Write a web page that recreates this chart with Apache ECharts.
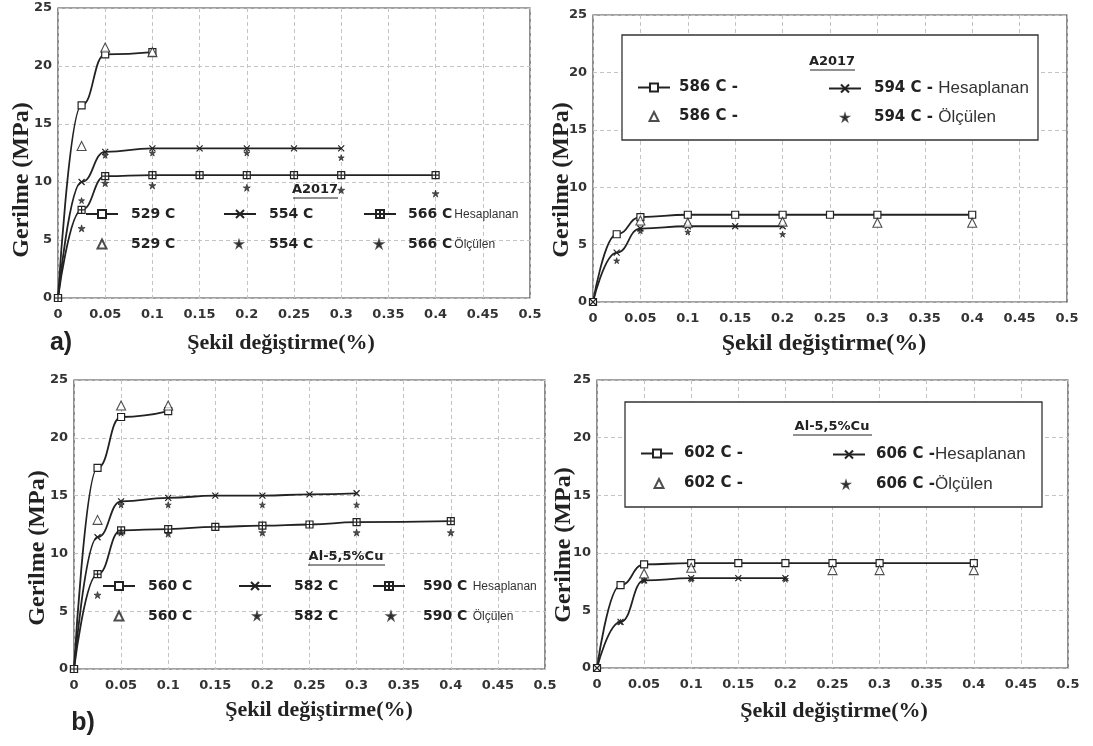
<!DOCTYPE html>
<html>
<head>
<meta charset="utf-8">
<script src="https://cdn.jsdelivr.net/npm/echarts@6/dist/echarts.min.js"></script>
<style>html,body{margin:0;padding:0;background:#fff;}#c{width:1093px;height:746px;}</style>
</head>
<body>
<div id="c"></div>
<script>
// ---------- tick labels ----------
const xTickLabels = ['0','0.05','0.1','0.15','0.2','0.25','0.3','0.35','0.4','0.45','0.5'];
const yTickLabels = ['0','5','10','15','20','25'];

// ---------- panel a (left): A2017 529 / 554 / 566 C ----------
const a1_529_calc_x = [0, 0.025, 0.05, 0.1];
const a1_529_calc_y = [0, 16.6, 21.0, 21.2];
const a1_529_meas_x = [0.025, 0.05, 0.1];
const a1_529_meas_y = [13.1, 21.6, 21.2];
const a1_554_calc_x = [0, 0.025, 0.05, 0.1, 0.15, 0.2, 0.25, 0.3];
const a1_554_calc_y = [0, 10.0, 12.6, 12.9, 12.9, 12.9, 12.9, 12.9];
const a1_554_meas_x = [0.025, 0.05, 0.1, 0.2, 0.3];
const a1_554_meas_y = [8.4, 12.3, 12.5, 12.5, 12.1];
const a1_566_calc_x = [0, 0.025, 0.05, 0.1, 0.15, 0.2, 0.25, 0.3, 0.4];
const a1_566_calc_y = [0, 7.6, 10.5, 10.6, 10.6, 10.6, 10.6, 10.6, 10.6];
const a1_566_meas_x = [0.025, 0.05, 0.1, 0.2, 0.3, 0.4];
const a1_566_meas_y = [6.0, 9.9, 9.7, 9.5, 9.3, 9.0];

// ---------- panel a (right): A2017 586 / 594 C ----------
const a2_586_calc_x = [0, 0.025, 0.05, 0.1, 0.15, 0.2, 0.25, 0.3, 0.4];
const a2_586_calc_y = [0, 5.9, 7.4, 7.6, 7.6, 7.6, 7.6, 7.6, 7.6];
const a2_586_meas_x = [0.05, 0.1, 0.2, 0.3, 0.4];
const a2_586_meas_y = [7.1, 6.9, 7.0, 6.9, 6.9];
const a2_594_calc_x = [0, 0.025, 0.05, 0.1, 0.15, 0.2];
const a2_594_calc_y = [0, 4.3, 6.4, 6.6, 6.6, 6.6];
const a2_594_meas_x = [0.025, 0.05, 0.1, 0.2];
const a2_594_meas_y = [3.6, 6.2, 6.1, 5.9];

// ---------- panel b (left): Al-5,5%Cu 560 / 582 / 590 C ----------
const b1_560_calc_x = [0, 0.025, 0.05, 0.1];
const b1_560_calc_y = [0, 17.4, 21.8, 22.3];
const b1_560_meas_x = [0.025, 0.05, 0.1];
const b1_560_meas_y = [12.9, 22.8, 22.8];
const b1_582_calc_x = [0, 0.025, 0.05, 0.1, 0.15, 0.2, 0.25, 0.3];
const b1_582_calc_y = [0, 11.4, 14.5, 14.8, 15.0, 15.0, 15.1, 15.2];
const b1_582_meas_x = [0.05, 0.1, 0.2, 0.3];
const b1_582_meas_y = [14.2, 14.2, 14.2, 14.2];
const b1_590_calc_x = [0, 0.025, 0.05, 0.1, 0.15, 0.2, 0.25, 0.3, 0.4];
const b1_590_calc_y = [0, 8.2, 12.0, 12.1, 12.3, 12.4, 12.5, 12.7, 12.8];
const b1_590_meas_x = [0.025, 0.05, 0.1, 0.2, 0.3, 0.4];
const b1_590_meas_y = [6.4, 11.8, 11.7, 11.8, 11.8, 11.8];

// ---------- panel b (right): Al-5,5%Cu 602 / 606 C ----------
const b2_602_calc_x = [0, 0.025, 0.05, 0.1, 0.15, 0.2, 0.25, 0.3, 0.4];
const b2_602_calc_y = [0, 7.2, 9.0, 9.1, 9.1, 9.1, 9.1, 9.1, 9.1];
const b2_602_meas_x = [0.05, 0.1, 0.25, 0.3, 0.4];
const b2_602_meas_y = [8.2, 8.7, 8.5, 8.5, 8.5];
const b2_606_calc_x = [0, 0.025, 0.05, 0.1, 0.15, 0.2];
const b2_606_calc_y = [0, 4.0, 7.6, 7.8, 7.8, 7.8];
const b2_606_meas_x = [0.025, 0.05, 0.1, 0.2];
const b2_606_meas_y = [4.0, 7.6, 7.7, 7.7];

// ---------- text ----------
const yName = 'Gerilme (MPa)';
const xName = 'Şekil değiştirme(%)';

// ---------- build ----------
const INK = '#222';
const NUMFONT = 'DejaVu Sans';
const SYM_X = 'path://M0,0L10,10M10,0L0,10';
const SYM_HASH = 'path://M0,0H10V10H0ZM5,0V10M0,5H10';
const SYM_STAR = 'path://M5,0L6.2,3.8L10,3.8L6.9,6.1L8.1,10L5,7.6L1.9,10L3.1,6.1L0,3.8L3.8,3.8Z';

function pairs(xs, ys) { return xs.map((x, i) => [x, ys[i]]); }
function calc(name, g, xs, ys, symbol, size) {
  return {
    name, type: 'line', xAxisIndex: g, yAxisIndex: g, data: pairs(xs, ys),
    smooth: 0.5, smoothMonotone: 'x', symbol, symbolSize: size, showSymbol: true,
    lineStyle: { color: INK, width: 1.8 },
    itemStyle: { color: '#fff', borderColor: INK, borderWidth: 1.2 },
    z: 5, animation: false
  };
}
function meas(name, g, xs, ys, symbol, size, filled) {
  return {
    name, type: 'scatter', xAxisIndex: g, yAxisIndex: g, data: pairs(xs, ys),
    symbol, symbolSize: size,
    itemStyle: { color: filled ? INK : '#fff', borderColor: INK, borderWidth: filled ? 0.8 : 1.1 },
    z: 6, animation: false
  };
}

const grids = [
  { left: 58, top: 8, width: 472, height: 290 },
  { left: 593, top: 15, width: 474, height: 287 },
  { left: 74, top: 380, width: 471, height: 289 },
  { left: 597, top: 380, width: 471, height: 288 }
].map(g => Object.assign(g, { show: true, borderColor: '#444', borderWidth: 1.2, backgroundColor: 'transparent' }));

const labelStyle = { fontFamily: NUMFONT, fontWeight: 'bold', fontSize: 13, color: '#333' };
const splitStyle = { show: true, lineStyle: { color: '#c4c4c4', type: [4, 3], width: 1 } };
const xAxes = [0, 1, 2, 3].map(g => ({
  gridIndex: g, type: 'value', min: 0, max: 0.5, interval: 0.05,
  axisLine: { show: false }, axisTick: { show: false }, splitLine: splitStyle,
  axisLabel: Object.assign({ margin: 10, formatter: v => xTickLabels[Math.round(v / 0.05)] }, labelStyle)
}));
const yAxes = [0, 1, 2, 3].map(g => ({
  gridIndex: g, type: 'value', min: 0, max: 25, interval: 5,
  axisLine: { show: false }, axisTick: { show: false }, splitLine: splitStyle,
  axisLabel: Object.assign({ margin: 6, formatter: v => yTickLabels[Math.round(v / 5)] }, labelStyle)
}));

const series = [
  calc('529 C Hesaplanan', 0, a1_529_calc_x, a1_529_calc_y, 'rect', 7),
  meas('529 C Ölçülen', 0, a1_529_meas_x, a1_529_meas_y, 'triangle', 9, false),
  calc('554 C Hesaplanan', 0, a1_554_calc_x, a1_554_calc_y, SYM_X, 6),
  meas('554 C Ölçülen', 0, a1_554_meas_x, a1_554_meas_y, SYM_STAR, 6, true),
  calc('566 C Hesaplanan', 0, a1_566_calc_x, a1_566_calc_y, SYM_HASH, 7),
  meas('566 C Ölçülen', 0, a1_566_meas_x, a1_566_meas_y, SYM_STAR, 7, true),

  calc('586 C Hesaplanan', 1, a2_586_calc_x, a2_586_calc_y, 'rect', 7),
  meas('586 C Ölçülen', 1, a2_586_meas_x, a2_586_meas_y, 'triangle', 9, false),
  calc('594 C Hesaplanan', 1, a2_594_calc_x, a2_594_calc_y, SYM_X, 6),
  meas('594 C Ölçülen', 1, a2_594_meas_x, a2_594_meas_y, SYM_STAR, 6, true),

  calc('560 C Hesaplanan', 2, b1_560_calc_x, b1_560_calc_y, 'rect', 7),
  meas('560 C Ölçülen', 2, b1_560_meas_x, b1_560_meas_y, 'triangle', 9, false),
  calc('582 C Hesaplanan', 2, b1_582_calc_x, b1_582_calc_y, SYM_X, 6),
  meas('582 C Ölçülen', 2, b1_582_meas_x, b1_582_meas_y, SYM_STAR, 6, true),
  calc('590 C Hesaplanan', 2, b1_590_calc_x, b1_590_calc_y, SYM_HASH, 7),
  meas('590 C Ölçülen', 2, b1_590_meas_x, b1_590_meas_y, SYM_STAR, 7, true),

  calc('602 C Hesaplanan', 3, b2_602_calc_x, b2_602_calc_y, 'rect', 7),
  meas('602 C Ölçülen', 3, b2_602_meas_x, b2_602_meas_y, 'triangle', 9, false),
  calc('606 C Hesaplanan', 3, b2_606_calc_x, b2_606_calc_y, SYM_X, 6),
  meas('606 C Ölçülen', 3, b2_606_meas_x, b2_606_meas_y, SYM_STAR, 6, true)
];

const rich = {
  b: { fontFamily: NUMFONT, fontWeight: 'bold', fontSize: 14, color: INK },
  B: { fontFamily: NUMFONT, fontWeight: 'bold', fontSize: 15, color: INK },
  s: { fontFamily: 'Liberation Sans', fontSize: 12, color: '#333', padding: [2, 0, 0, 2] },
  r: { fontFamily: 'Liberation Sans', fontSize: 17, color: '#333' }
};
// line-series legend item: 32px line icon
function leg(name, text, left, rowY, pad) {
  return {
    data: [name], left, top: rowY - 9, padding: 0, itemWidth: 32, itemHeight: 10,
    selectedMode: false, z: 20, formatter: text,
    textStyle: { rich, padding: [0, 0, 0, pad] }
  };
}
// scatter legend item: small symbol icon centred at cx, text starting at tx
function legS(name, text, cx, rowY, tx, size) {
  return {
    data: [name], left: cx - size / 2, top: rowY - 9, padding: 0, itemWidth: size, itemHeight: size,
    selectedMode: false, z: 20, formatter: text,
    textStyle: { rich, padding: [0, 0, 0, tx - (cx - size / 2) - size - 5] }
  };
}
const legends = [
  leg('529 C Hesaplanan', '{b|529 C}', 85, 216, 8),
  leg('554 C Hesaplanan', '{b|554 C}', 223, 216, 8),
  leg('566 C Hesaplanan', '{b|566 C}{s|Hesaplanan}', 363, 216, 7),
  legS('529 C Ölçülen', '{b|529 C}', 101, 246, 130, 9),
  legS('554 C Ölçülen', '{b|554 C}', 238, 246, 268, 6),
  legS('566 C Ölçülen', '{b|566 C}{s|Ölçülen}', 378, 246, 407, 7),

  leg('586 C Hesaplanan', '{B|586 C -}', 637, 89, 4),
  leg('594 C Hesaplanan', '{B|594 C - }{r|Hesaplanan}', 828, 89, 8),
  legS('586 C Ölçülen', '{B|586 C -}', 653, 118, 678, 9),
  legS('594 C Ölçülen', '{B|594 C - }{r|Ölçülen}', 844, 118, 873, 6),

  leg('560 C Hesaplanan', '{b|560 C}', 102, 588, 8),
  leg('582 C Hesaplanan', '{b|582 C}', 238, 588, 18),
  leg('590 C Hesaplanan', '{b|590 C}{s| Hesaplanan}', 372, 588, 13),
  legS('560 C Ölçülen', '{b|560 C}', 118, 618, 147, 9),
  legS('582 C Ölçülen', '{b|582 C}', 256, 618, 293, 6),
  legS('590 C Ölçülen', '{b|590 C}{s| Ölçülen}', 390, 618, 422, 7),

  leg('602 C Hesaplanan', '{B|602 C -}', 640, 455, 6),
  leg('606 C Hesaplanan', '{B|606 C -}{r|Hesaplanan}', 832, 455, 6),
  legS('602 C Ölçülen', '{B|602 C -}', 658, 485, 683, 9),
  legS('606 C Ölçülen', '{B|606 C -}{r|Ölçülen}', 845, 485, 875, 6)
];

function txt(text, x, y, font, rot) {
  return {
    type: 'text', x, y, rotation: rot || 0, z: 30,
    style: { text, font, fill: INK, align: 'center', verticalAlign: 'middle', textAlign: 'center', textVerticalAlign: 'middle' }
  };
}
function uline(x1, x2, y) {
  return { type: 'line', z: 30, shape: { x1, y1: y, x2, y2: y }, style: { stroke: INK, lineWidth: 1 } };
}
const YF = 'bold 24px "Liberation Serif"';
const XF = 'bold 22px "Liberation Serif"';
const TF = 'bold 13px "DejaVu Sans"';
const graphic = [
  { type: 'rect', z: 10, shape: { x: 622, y: 35, width: 416, height: 105 }, style: { fill: '#fff', stroke: '#333', lineWidth: 1.3 } },
  { type: 'rect', z: 10, shape: { x: 625, y: 402, width: 417, height: 105 }, style: { fill: '#fff', stroke: '#333', lineWidth: 1.3 } },
  txt(yName, 22, 180, YF, Math.PI / 2),
  txt(yName, 562, 180, YF, Math.PI / 2),
  txt(yName, 38, 548, YF, Math.PI / 2),
  txt(yName, 564, 545, YF, Math.PI / 2),
  txt(xName, 281, 343, XF),
  txt(xName, 824, 344, 'bold 24px "Liberation Serif"'),
  txt(xName, 319, 710, XF),
  txt(xName, 834, 711, XF),
  txt('a)', 61, 343, 'bold 25px "Liberation Sans"'),
  txt('b)', 83, 723, 'bold 25px "Liberation Sans"'),
  txt('A2017', 315, 190, TF), uline(293, 338, 198),
  txt('A2017', 832, 62, TF), uline(810, 855, 70),
  txt('Al-5,5%Cu', 346, 557, TF), uline(308, 385, 565),
  txt('Al-5,5%Cu', 832, 427, TF), uline(793, 872, 435)
];

const chart = echarts.init(document.getElementById('c'), null, { renderer: 'canvas' });
chart.setOption({
  animation: false,
  backgroundColor: '#fff',
  grid: grids,
  xAxis: xAxes,
  yAxis: yAxes,
  legend: legends,
  series,
  graphic
});
</script>
</body>
</html>
